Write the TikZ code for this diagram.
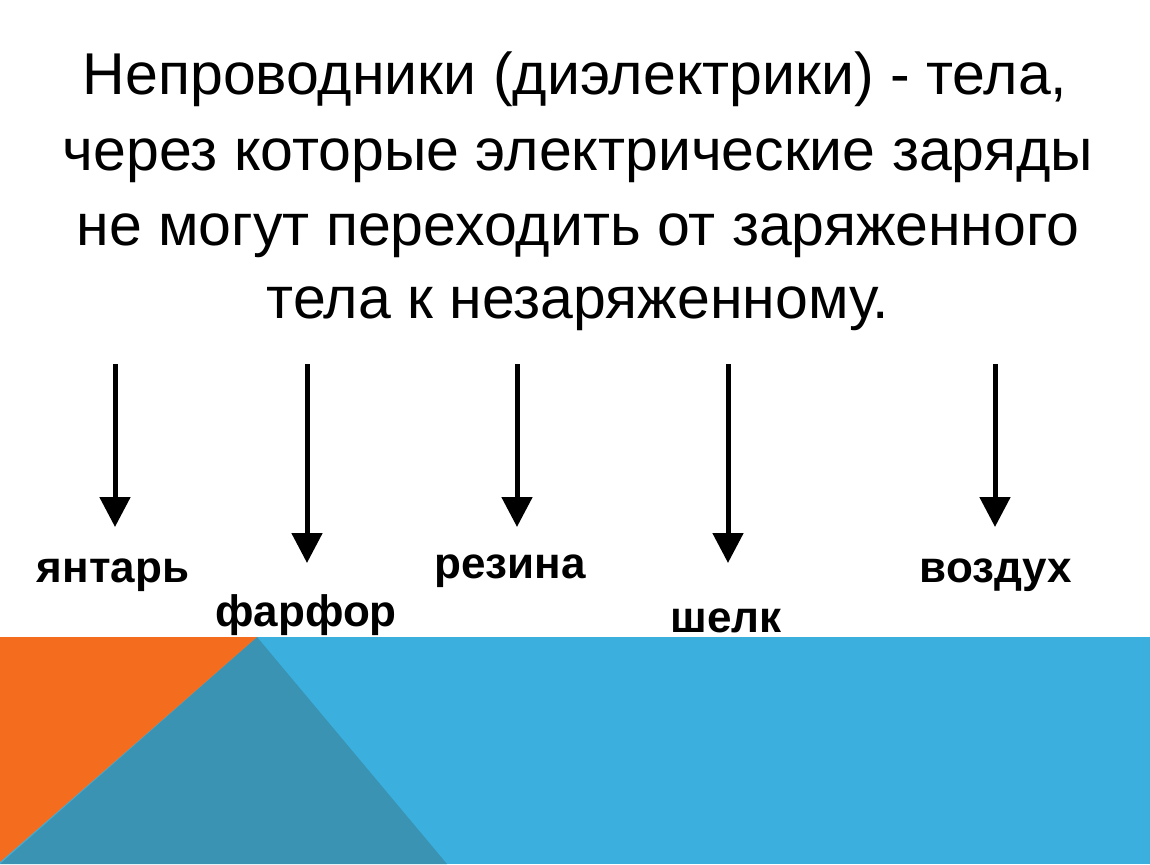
\documentclass[tikz,border=0pt]{standalone}
\usepackage{fontspec}
\setmainfont{Liberation Sans}
\usetikzlibrary{arrows.meta}
\definecolor{orng}{HTML}{F46D1F}
\definecolor{sky}{HTML}{3BB0DF}
\definecolor{teal}{HTML}{3A93B2}
\begin{document}
\begin{tikzpicture}[x=1pt,y=-1pt,
  ttl/.style={font=\fontsize{59}{59}\selectfont, anchor=base},
  lbl/.style={font=\fontsize{44}{44}\selectfont\bfseries, anchor=base},
  arr/.style={line width=5pt,-{Triangle[length=30pt,width=30pt]}}]
\useasboundingbox (0,0) rectangle (1150,864);
\fill[white] (0,0) rectangle (1150,864);
\fill[sky] (0,637) rectangle (1150,864);
\fill[teal] (257,637) -- (447,864) -- (0,864) -- cycle;
\fill[orng] (0,637) -- (257,637) -- (0,862) -- cycle;
\node[ttl] (t1) at (575,95) {Непроводники (диэлектрики) - тела,};
\node[ttl] (t2) at (578,170) {через которые электрические заряды};
\node[ttl] (t3) at (578,245) {не могут переходить от заряженного};
\node[ttl] (t4) at (578,318) {тела к незаряженному.};
\foreach \n/\x/\yb in {a/115/527,b/307/563,c/517/527,d/728/563,e/995/527}{
  \coordinate (s\n) at (\x,364);
  \coordinate (e\n) at (\x,\yb);
  \draw[arr] (s\n) -- (e\n);
}
\node[lbl] (l1) at (113,582) {янтарь};
\node[lbl] (l2) at (306,626) {фарфор};
\node[lbl] (l3) at (510,578) {резина};
\node[lbl] (l4) at (726,632) {шелк};
\node[lbl] (l5) at (996,582) {воздух};
\end{tikzpicture}
\end{document}
